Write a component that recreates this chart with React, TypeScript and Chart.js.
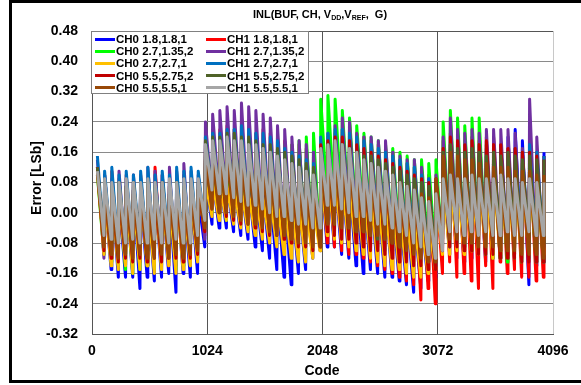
import React, { useEffect, useRef } from "react";
import { Chart, registerables } from "chart.js";

Chart.register(...registerables);

const FONT = '"Liberation Sans", Arial, Helvetica, sans-serif';

// Axis ticks
const xTicks = [0, 1024, 2048, 3072, 4096];
const yTicks = [-0.32, -0.24, -0.16, -0.08, 0.0, 0.08, 0.16, 0.24, 0.32, 0.4, 0.48];

// Sawtooth step of the DAC (codes per tooth) and where peak / valley sit inside a tooth
const TOOTH = 64;
const TOP_SHIFT = -16;
const BOTTOM_SHIFT = 42;

const seriesLabels = [
  "CH0 1.8,1.8,1",
  "CH1 1.8,1.8,1",
  "CH0 2.7,1.35,2",
  "CH1 2.7,1.35,2",
  "CH0 2.7,2.7,1",
  "CH1 2.7,2.7,1",
  "CH0 5.5,2.75,2",
  "CH1 5.5,2.75,2",
  "CH0 5.5,5.5,1",
  "CH1 5.5,5.5,1",
];

const seriesColors = [
  "#0000FF",
  "#FF0000",
  "#00FF00",
  "#7030A0",
  "#FFC000",
  "#0070C0",
  "#C00000",
  "#4F6228",
  "#984807",
  "#A6A6A6",
];

// Peak (top) and valley (bottom) of every tooth, in 1/100 LSb, teeth 1..63
const ch0_18_top = [
  12, 5, 6, 4, 5, 6, 5, 4, 6, 5, 5, 6, 4, 5, 4,
  10, 9, 9, 8, 8, 7, 7, 6, 6, 5, 5, 4, 4, 3, 3, 2,
  12, 11, 10, 9, 8, 7, 6, 5, 4, 3, 2, 1, 0, -1, -2, -3,
  6, 12, 14, 13, 14, 15, 15, 16, 17, 18, 20, 22, 19, 16, 14, 16,
];
const ch0_18_bot = [
  -11, -15, -17, -17, -17, -20, -17, -18, -17, -16, -21, -16, -17, -16, -9,
  -3, -4, -4, -5, -6, -7, -9, -10, -12, -15, -17, -19, -16, -15, -12, -9,
  -9, -9, -11, -12, -14, -16, -15, -16, -17, -17, -18, -19, -21, -20, -18, -17,
  -12, -11, -12, -13, -12, -14, -13, -12, -12, -12, -13, -13, -19, -14, -13,
];

const ch1_18_top = [
  12, 10, 11, 9, 10, 8, 10, 9, 12, 10, 8, 9, 10, 9, 8,
  20, 21, 22, 23, 22, 23, 22, 21, 22, 21, 20, 19, 18, 18, 17, 16,
  18, 20, 21, 22, 24, 21, 20, 19, 18, 17, 16, 14, 13, 12, 11, 10,
  8, 19, 21, 20, 19, 20, 19, 20, 20, 18, 17, 17, 16, 17, 16, 15,
];
const ch1_18_bot = [
  -10, -12, -13, -14, -12, -13, -14, -12, -13, -14, -12, -13, -12, -11, -6,
  2, 1, 0, -1, -2, -3, -3, -4, -5, -6, -7, -8, -9, -9, -8, -7,
  -8, -9, -10, -11, -11, -12, -13, -14, -15, -16, -17, -18, -19, -23, -20, -24,
  -16, -13, -17, -16, -18, -20, -14, -20, -13, -16, -15, -17, -17, -18, -17,
];

const ch0_27_135_top = [
  10, 8, 7, 8, 7, 6, 7, 6, 7, 6, 5, 6, 7, 6, 6,
  15, 14, 15, 14, 15, 14, 15, 15, 16, 16, 17, 18, 18, 19, 20, 21,
  30, 31, 30, 27, 25, 23, 21, 20, 19, 18, 17, 16, 15, 14, 14, 13,
  14, 24, 27, 25, 23, 25, 25, 18, 17, 16, 15, 14, 13, 12, 11, 10,
];
const ch0_27_135_bot = [
  -11, -13, -14, -15, -16, -15, -14, -15, -14, -13, -15, -14, -14, -12, -5,
  0, -1, -2, -2, -3, -4, -4, -5, -6, -6, -7, -8, -8, -9, -10, -9,
  4, 3, 2, 1, 0, -1, -2, -3, -4, -5, -6, -7, -8, -9, -10, -11,
  -10, -8, -8, -9, -10, -10, -11, -12, -12, -13, -12, -13, -12, -13, -13,
];

const ch1_27_135_top = [
  14, 10, 9, 11, 9, 10, 9, 12, 11, 10, 12, 11, 13, 11, 10,
  24, 26, 27, 28, 27, 29, 28, 27, 26, 25, 23, 22, 20, 19, 18, 16,
  18, 21, 23, 25, 24, 21, 20, 20, 19, 19, 16, 15, 14, 14, 12, 9,
  10, 20, 25, 22, 21, 22, 21, 22, 22, 22, 22, 21, 17, 30, 20, 15,
];
const ch1_27_135_bot = [
  -12, -11, -12, -11, -12, -13, -11, -12, -13, -12, -14, -13, -14, -12, -7,
  4, 4, 2, 1, 0, -1, -2, -3, -4, -5, -6, -7, -8, -9, -10, -10,
  0, -1, -2, -2, -3, -4, -5, -6, -7, -8, -9, -10, -11, -12, -13, -14,
  -8, -6, -6, -7, -8, -8, -9, -10, -10, -11, -11, -12, -12, -13, -13,
];

const ch0_27_27_top = [
  11, 4, 5, 4, 5, 4, 5, 3, 5, 4, 4, 5, 3, 4, 5,
  8, 8, 7, 7, 6, 6, 5, 5, 4, 4, 3, 3, 2, 2, 1, 1,
  10, 10, 9, 8, 7, 6, 5, 4, 3, 2, 1, 0, -1, -2, -3, -3,
  4, 8, 9, 8, 8, 9, 8, 8, 9, 8, 8, 9, 8, 8, 8, 7,
];
const ch0_27_27_bot = [
  -11, -14, -15, -14, -16, -15, -14, -16, -15, -14, -16, -15, -14, -13, -4,
  -1, -2, -2, -3, -4, -5, -6, -7, -8, -9, -11, -12, -13, -13, -12, -10,
  -6, -7, -8, -9, -10, -11, -12, -13, -14, -15, -15, -16, -17, -17, -16, -15,
  -11, -11, -10, -11, -10, -11, -10, -12, -11, -10, -11, -12, -11, -10, -11,
];

const ch1_27_27_top = [
  15, 11, 12, 10, 11, 10, 11, 12, 10, 11, 10, 12, 11, 12, 11,
  20, 21, 21, 22, 22, 23, 22, 21, 21, 20, 19, 17, 16, 15, 14, 13,
  20, 21, 22, 22, 21, 20, 19, 18, 17, 16, 15, 14, 13, 12, 10, 9,
  7, 15, 18, 17, 16, 17, 16, 17, 16, 17, 16, 17, 16, 18, 16, 15,
];
const ch1_27_27_bot = [
  -8, -9, -10, -11, -10, -9, -10, -11, -10, -9, -10, -11, -10, -9, -4,
  5, 4, 3, 2, 1, 0, -1, -2, -3, -4, -5, -6, -7, -7, -8, -8,
  -3, -4, -5, -6, -6, -7, -8, -9, -10, -10, -11, -12, -12, -13, -13, -14,
  -10, -9, -8, -9, -8, -9, -8, -9, -8, -9, -10, -8, -9, -10, -9,
];

const ch0_55_275_top = [
  12, 7, 6, 5, 7, 6, 6, 7, 5, 6, 7, 6, 6, 7, 6,
  16, 17, 17, 18, 18, 17, 17, 16, 16, 15, 14, 14, 13, 12, 12, 11,
  18, 19, 20, 20, 19, 18, 17, 16, 15, 14, 13, 12, 11, 10, 9, 8,
  9, 17, 20, 19, 18, 19, 18, 19, 18, 18, 17, 17, 16, 16, 15, 14,
];
const ch0_55_275_bot = [
  -10, -12, -13, -12, -13, -12, -13, -12, -13, -12, -12, -13, -12, -11, -5,
  1, 0, -1, -2, -3, -3, -4, -5, -6, -6, -7, -8, -9, -9, -10, -9,
  -5, -6, -7, -7, -8, -9, -10, -10, -11, -12, -13, -13, -14, -14, -15, -15,
  -10, -9, -9, -10, -10, -11, -11, -11, -12, -12, -12, -13, -13, -13, -13,
];

const ch1_55_275_top = [
  12, 8, 7, 8, 7, 8, 7, 8, 7, 8, 7, 8, 7, 8, 8,
  19, 20, 20, 21, 21, 20, 20, 19, 18, 18, 17, 16, 15, 14, 13, 12,
  17, 18, 18, 18, 17, 16, 15, 15, 14, 13, 12, 11, 10, 9, 8, 7,
  8, 16, 18, 17, 16, 17, 16, 15, 16, 15, 16, 15, 14, 15, 14, 14,
];
const ch1_55_275_bot = [
  -7, -8, -9, -9, -8, -9, -10, -9, -8, -9, -9, -10, -9, -8, -3,
  5, 4, 4, 3, 2, 1, 0, -1, -2, -3, -3, -4, -5, -5, -6, -6,
  -2, -3, -3, -4, -5, -5, -6, -7, -7, -8, -9, -9, -10, -10, -11, -11,
  -6, -4, -4, -5, -5, -6, -6, -6, -7, -7, -7, -8, -8, -8, -8,
];

const ch0_55_55_top = [
  10, 6, 5, 5, 6, 5, 6, 5, 5, 6, 5, 6, 5, 6, 6,
  14, 14, 15, 15, 14, 14, 13, 13, 12, 12, 11, 10, 10, 9, 8, 8,
  16, 17, 17, 16, 15, 14, 13, 12, 11, 10, 9, 8, 7, 6, 5, 4,
  9, 15, 16, 15, 14, 14, 13, 13, 12, 12, 12, 11, 11, 11, 10, 10,
];
const ch0_55_55_bot = [
  -9, -11, -12, -11, -12, -11, -12, -12, -11, -12, -11, -12, -11, -10, -4,
  1, 0, 0, -1, -2, -3, -3, -4, -5, -6, -6, -7, -8, -8, -9, -9,
  -3, -3, -4, -4, -5, -5, -6, -6, -7, -8, -9, -10, -11, -12, -13, -13,
  -9, -7, -7, -8, -8, -9, -9, -9, -10, -10, -10, -11, -11, -11, -12,
];

const ch1_55_55_top = [
  11, 9, 8, 8, 9, 8, 8, 9, 8, 8, 9, 8, 9, 9, 9,
  18, 19, 19, 20, 19, 19, 18, 18, 17, 16, 15, 14, 13, 12, 11, 10,
  17, 18, 19, 18, 17, 16, 14, 13, 12, 11, 10, 8, 7, 6, 4, 3,
  5, 9, 10, 9, 9, 10, 9, 9, 9, 10, 9, 9, 8, 9, 8, 8,
];
const ch1_55_55_bot = [
  -6, -7, -8, -8, -7, -8, -8, -7, -8, -8, -7, -8, -8, -6, -2,
  6, 5, 5, 4, 3, 2, 2, 1, 0, -1, -1, -2, -3, -3, -4, -4,
  2, 2, 1, 0, -1, -1, -2, -3, -3, -4, -5, -6, -8, -9, -11, -12,
  -10, -5, -5, -6, -5, -6, -5, -6, -6, -5, -6, -6, -5, -6, -6,
];

const seriesTops = [
  ch0_18_top, ch1_18_top, ch0_27_135_top, ch1_27_135_top, ch0_27_27_top,
  ch1_27_27_top, ch0_55_275_top, ch1_55_275_top, ch0_55_55_top, ch1_55_55_top,
];
const seriesBottoms = [
  ch0_18_bot, ch1_18_bot, ch0_27_135_bot, ch1_27_135_bot, ch0_27_27_bot,
  ch1_27_27_bot, ch0_55_275_bot, ch1_55_275_bot, ch0_55_55_bot, ch1_55_55_bot,
];

function buildPoints(tops: number[], bots: number[]) {
  const pts: { x: number; y: number }[] = [];
  for (let i = 0; i < tops.length; i++) {
    const j = i + 1;
    pts.push({ x: j * TOOTH + TOP_SHIFT, y: tops[i] / 100 });
    if (i < bots.length) pts.push({ x: j * TOOTH + BOTTOM_SHIFT, y: bots[i] / 100 });
  }
  return pts;
}

export default function App() {
  const canvasRef = useRef<HTMLCanvasElement | null>(null);

  useEffect(() => {
    const canvas = canvasRef.current;
    if (!canvas) return;
    const n = seriesLabels.length;
    const datasets = seriesLabels.map((label, i) => ({
      label,
      data: buildPoints(seriesTops[i], seriesBottoms[i]),
      borderColor: seriesColors[i],
      backgroundColor: seriesColors[i],
      borderWidth: 3,
      pointRadius: 0,
      pointHoverRadius: 0,
      tension: 0,
      fill: false,
      borderJoinStyle: "round" as const,
      order: n - 1 - i,
    }));

    const chart = new Chart(canvas, {
      type: "line",
      data: { datasets },
      options: {
        animation: false,
        responsive: false,
        devicePixelRatio: 1,
        parsing: false,
        normalized: true,
        events: [],
        layout: { padding: { left: 12, top: 31, right: 28, bottom: 21 } },
        plugins: {
          legend: { display: false },
          tooltip: { enabled: false },
          title: { display: false },
        },
        scales: {
          x: {
            type: "linear",
            min: xTicks[0],
            max: xTicks[xTicks.length - 1],
            afterFit: (s: any) => {
              s.height = 30;
            },
            afterBuildTicks: (s: any) => {
              s.ticks = xTicks.map((v) => ({ value: v }));
            },
            ticks: {
              color: "#000",
              font: { family: FONT, size: 14, weight: "bold" },
              padding: 9,
              maxRotation: 0,
              autoSkip: false,
              callback: (v: any) => String(v),
            },
            grid: {
              drawTicks: false,
              lineWidth: 1,
              color: (ctx: any) =>
                ctx.tick && ctx.tick.value === xTicks[xTicks.length - 1] ? "#c8c8c8" : "#555555",
            },
            border: { display: true, color: "#555555", width: 1 },
          },
          y: {
            type: "linear",
            min: yTicks[0],
            max: yTicks[yTicks.length - 1],
            afterFit: (s: any) => {
              s.width = 80;
            },
            afterBuildTicks: (s: any) => {
              s.ticks = yTicks.map((v) => ({ value: v }));
            },
            ticks: {
              color: "#000",
              font: { family: FONT, size: 14, weight: "bold" },
              padding: 14,
              autoSkip: false,
              callback: (v: any) => Number(v).toFixed(2),
            },
            grid: {
              drawTicks: false,
              lineWidth: 1,
              color: (ctx: any) =>
                ctx.tick && ctx.tick.value === yTicks[yTicks.length - 1] ? "#555555" : "#8a8a8a",
            },
            border: { display: true, color: "#555555", width: 1 },
          },
        },
      },
    } as any);

    return () => {
      chart.destroy();
    };
  }, []);

  return (
    <div
      style={{
        position: "relative",
        width: 581,
        height: 385,
        overflow: "hidden",
        background: "#fff",
        fontFamily: FONT,
        color: "#000",
      }}
    >
      <style>{"html,body{margin:0;padding:0;background:#fff;}"}</style>
      <canvas
        ref={canvasRef}
        width={581}
        height={385}
        style={{ position: "absolute", left: 0, top: 0, width: 581, height: 385 }}
      />
      {/* outer frame */}
      <div
        style={{
          position: "absolute",
          left: 9,
          top: 0,
          width: 700,
          height: 383,
          border: "3px solid #000",
          boxSizing: "border-box",
          pointerEvents: "none",
        }}
      />
      {/* title */}
      <div
        style={{
          position: "absolute",
          left: 170,
          top: 8,
          width: 300,
          textAlign: "center",
          fontSize: 11,
          fontWeight: "bold",
          whiteSpace: "pre",
          lineHeight: "13px",
        }}
      >
        {"INL(BUF, CH, V"}
        <span style={{ fontSize: 7, position: "relative", top: 2 }}>DD</span>
        {",V"}
        <span style={{ fontSize: 7, position: "relative", top: 2 }}>REF</span>
        {",  G)"}
      </div>
      {/* legend */}
      <div
        style={{
          position: "absolute",
          left: 91,
          top: 31,
          width: 218,
          height: 63,
          border: "1px solid #808080",
          background: "#fff",
          boxSizing: "border-box",
        }}
      >
        {seriesLabels.map((label, i) => {
          const row = Math.floor(i / 2);
          const col = i % 2;
          return (
            <div
              key={label}
              style={{
                position: "absolute",
                left: 3 + col * 111,
                top: 1 + row * 12.2,
                height: 12,
                display: "flex",
                alignItems: "center",
                whiteSpace: "nowrap",
              }}
            >
              <span
                style={{
                  display: "inline-block",
                  width: 20,
                  height: 3,
                  background: seriesColors[i],
                  marginRight: 1,
                }}
              />
              <span style={{ fontSize: 11.5, fontWeight: "bold", lineHeight: "12px" }}>{label}</span>
            </div>
          );
        })}
      </div>
      {/* y axis title */}
      <div
        style={{
          position: "absolute",
          left: 36,
          top: 178,
          transform: "translate(-50%, -50%) rotate(-90deg)",
          fontSize: 14,
          fontWeight: "bold",
          whiteSpace: "nowrap",
        }}
      >
        Error [LSb]
      </div>
      {/* x axis title */}
      <div
        style={{
          position: "absolute",
          left: 322,
          top: 370,
          transform: "translate(-50%, -50%)",
          fontSize: 14,
          fontWeight: "bold",
          whiteSpace: "nowrap",
        }}
      >
        Code
      </div>
    </div>
  );
}
